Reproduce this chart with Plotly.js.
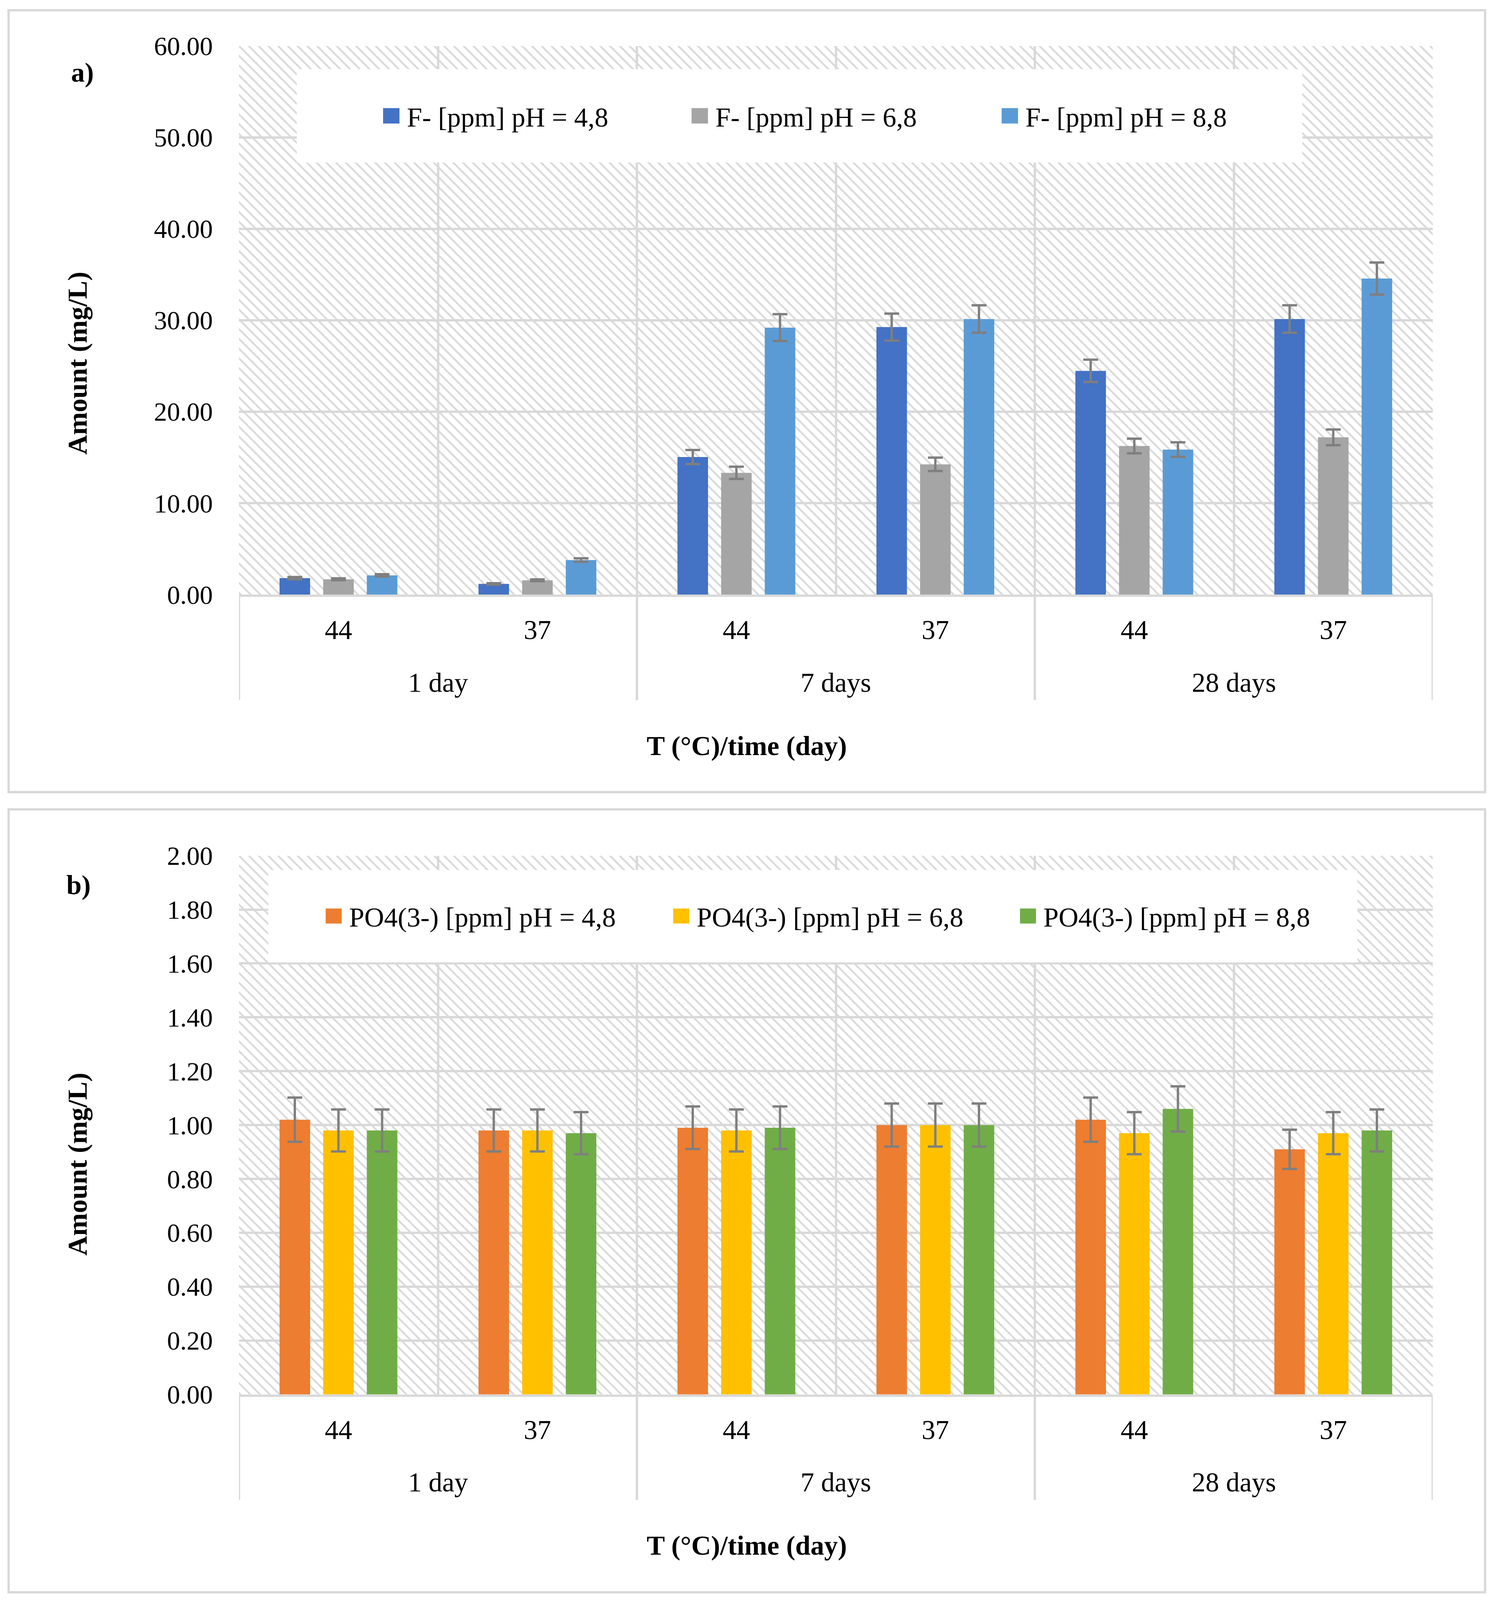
<!DOCTYPE html>
<html>
<head>
<meta charset="utf-8">
<script src="https://cdn.plot.ly/plotly-3.0.1.min.js"></script>
<style>
	html, body { margin: 0; padding: 0; background: #fff; overflow: hidden; }
</style>
</head>
<body>
<div id="chart"></div>
<script>
// categories (two-level x axis: storage time / temperature)
var days  = ['1 day', '1 day', '7 days', '7 days', '28 days', '28 days'];
var temps = ['44', '37', '44', '37', '44', '37'];

// panel a) fluoride release
var f_names  = ['F- [ppm] pH = 4,8', 'F- [ppm] pH = 6,8', 'F- [ppm] pH = 8,8'];
var f_ph48   = [1.80, 1.17, 15.05, 29.26, 24.47, 30.14];
var f_ph68   = [1.68, 1.57, 13.32, 14.25, 16.25, 17.20];
var f_ph88   = [2.10, 3.78, 29.20, 30.14, 15.86, 34.57];
var f_err48  = [0.12, 0.08, 0.77, 1.47, 1.22, 1.50];
var f_err68  = [0.10, 0.10, 0.67, 0.73, 0.80, 0.86];
var f_err88  = [0.13, 0.19, 1.47, 1.50, 0.80, 1.75];

// panel b) phosphate release
var p_names  = ['PO4(3-) [ppm] pH = 4,8', 'PO4(3-) [ppm] pH = 6,8', 'PO4(3-) [ppm] pH = 8,8'];
var p_ph48   = [1.02, 0.98, 0.99, 1.00, 1.02, 0.91];
var p_ph68   = [0.98, 0.98, 0.98, 1.00, 0.97, 0.97];
var p_ph88   = [0.98, 0.97, 0.99, 1.00, 1.06, 0.98];
var p_err48  = [0.082, 0.078, 0.079, 0.080, 0.082, 0.073];
var p_err68  = [0.078, 0.078, 0.078, 0.080, 0.078, 0.078];
var p_err88  = [0.078, 0.078, 0.079, 0.080, 0.084, 0.078];

var f_colors = ['#4472C4', '#A5A5A5', '#5B9BD5'];
var p_colors = ['#ED7D31', '#FFC000', '#70AD47'];

// the layout is measured on a 3831 x 4351 sheet; fit it to the visible window height
var W = 3831, REF_H = 4351;
var H = window.innerHeight > 0 ? Math.min(REF_H, window.innerHeight) : REF_H;
var SY = H / REF_H;
var FONT = 'Liberation Serif, Times New Roman, serif';
var GRID = '#d9d9d9';

document.getElementById('chart').style.width = W + 'px';
document.getElementById('chart').style.height = H + 'px';

function px(x) { return x / W; }
function py(y) { return 1 - y / REF_H; }

// one unique category per bar group, shown with its temperature only
var cat_ids = days.map(function(d, i) { return d + ' | ' + temps[i]; });

// diagonal hatch used as plot background
function hatch_uri(w, h) {
	var svg = '<svg xmlns="http://www.w3.org/2000/svg" width="' + w + '" height="' + h +
		'" viewBox="0 0 ' + w + ' ' + h + '" preserveAspectRatio="none">' +
		'<defs><pattern id="p" patternUnits="userSpaceOnUse" width="25" height="25">' +
		'<path d="M-5,-5L30,30M-5,20L5,30M20,-5L30,5" stroke="' + GRID + '" stroke-width="4.5"/>' +
		'</pattern></defs><rect width="' + w + '" height="' + h + '" fill="url(#p)"/></svg>';
	return 'data:image/svg+xml;base64,' + btoa(svg);
}

function make_bar(vals, errs, name, color, xa, ya) {
	return {
		type: 'bar',
		x: cat_ids,
		y: vals,
		name: name,
		xaxis: xa,
		yaxis: ya,
		showlegend: false,
		hoverinfo: 'none',
		marker: { color: color },
		error_y: { type: 'data', array: errs, visible: true, color: '#7F7F7F', thickness: 6, width: 19 }
	};
}

var data = [
	make_bar(f_ph48, f_err48, f_names[0], f_colors[0], 'x', 'y'),
	make_bar(f_ph68, f_err68, f_names[1], f_colors[1], 'x', 'y'),
	make_bar(f_ph88, f_err88, f_names[2], f_colors[2], 'x', 'y'),
	make_bar(p_ph48, p_err48, p_names[0], p_colors[0], 'x2', 'y2'),
	make_bar(p_ph68, p_err68, p_names[1], p_colors[1], 'x2', 'y2'),
	make_bar(p_ph88, p_err88, p_names[2], p_colors[2], 'x2', 'y2')
];

// plot areas on the reference sheet: [left, top, right, bottom]
var area_a = [612, 125, 3669, 1617];
var area_b = [612, 2327, 3669, 3792];

function x_axis(area, anchor) {
	return {
		type: 'category',
		categoryorder: 'array', categoryarray: cat_ids,
		tickmode: 'array', tickvals: cat_ids, ticktext: temps,
		domain: [px(area[0]), px(area[2])],
		anchor: anchor,
		range: [-0.5, cat_ids.length - 0.5],
		tickson: 'boundaries',
		showgrid: true, gridcolor: GRID, gridwidth: 6,
		showline: true, linecolor: GRID, linewidth: 6,
		ticks: '',
		ticklabelstandoff: Math.round(26 * SY),
		tickfont: { family: FONT, size: 70, color: '#000' },
		fixedrange: true
	};
}

function y_axis(area, anchor, top, step) {
	return {
		domain: [py(area[3]), py(area[1])],
		anchor: anchor,
		range: [0, top],
		dtick: step,
		tickformat: '.2f',
		showgrid: true, gridcolor: GRID, gridwidth: 6,
		zeroline: false, showline: false,
		ticks: '',
		ticklabelstandoff: 66,
		tickfont: { family: FONT, size: 67, color: '#000' },
		fixedrange: true
	};
}

// second label row (days) and the dividers between day groups
function group_parts(xref, axis_y) {
	var shapes = [], annots = [];
	var start = 0;
	for (var i = 1; i <= days.length; i++) {
		if (i === days.length || days[i] !== days[start]) {
			annots.push({
				xref: xref, yref: 'paper', x: (start + i - 1) / 2, y: py(axis_y + 239),
				xanchor: 'center', yanchor: 'middle', showarrow: false,
				text: days[start], font: { family: FONT, size: 70, color: '#000' }
			});
			start = i;
		}
	}
	for (var k = 0; k <= days.length; k++) {
		if (k === 0 || k === days.length || days[k] !== days[k - 1]) {
			shapes.push({
				type: 'line', xref: xref, yref: 'paper',
				x0: k - 0.5, x1: k - 0.5, y0: py(axis_y), y1: py(axis_y + 287),
				line: { color: GRID, width: 6 }
			});
		}
	}
	return { shapes: shapes, annots: annots };
}

function legend_parts(names, colors, box, sq_x, sq_y, sq) {
	var shapes = [{
		type: 'rect', xref: 'paper', yref: 'paper', layer: 'above',
		x0: px(box[0]), x1: px(box[2]), y0: py(box[3]), y1: py(box[1]),
		fillcolor: '#fff', line: { width: 0 }
	}];
	var annots = [];
	for (var i = 0; i < names.length; i++) {
		shapes.push({
			type: 'rect', xref: 'paper', yref: 'paper', layer: 'above',
			x0: px(sq_x[i]), x1: px(sq_x[i] + sq), y0: py(sq_y + sq / 2), y1: py(sq_y - sq / 2),
			fillcolor: colors[i], line: { width: 0 }
		});
		annots.push({
			xref: 'paper', yref: 'paper', x: px(sq_x[i] + sq + 17), y: py(sq_y + 4),
			xanchor: 'left', yanchor: 'middle', showarrow: false,
			text: names[i], font: { family: FONT, size: 70, color: '#000' }
		});
	}
	return { shapes: shapes, annots: annots };
}

var grp_a = group_parts('x', area_a[3]);
var grp_b = group_parts('x2', area_b[3]);
var leg_a = legend_parts(f_names, f_colors, [760, 188, 3335, 442], [981, 1771, 2565], 315, 42);
var leg_b = legend_parts(p_names, p_colors, [687, 2366, 3476, 2617], [834, 1724, 2612], 2491, 41);

var border = { color: GRID, width: 6 };
var shapes = [
	{ type: 'rect', xref: 'paper', yref: 'paper', x0: px(22), x1: px(3803), y0: py(2154), y1: py(28), line: border },
	{ type: 'rect', xref: 'paper', yref: 'paper', x0: px(22), x1: px(3803), y0: py(4330), y1: py(2201), line: border }
].concat(grp_a.shapes, grp_b.shapes, leg_a.shapes, leg_b.shapes);

function label(text, x, y, bold, angle) {
	return {
		xref: 'paper', yref: 'paper', x: px(x), y: py(y),
		xanchor: 'center', yanchor: 'middle', showarrow: false,
		textangle: angle || 0,
		text: bold ? '<b>' + text + '</b>' : text,
		font: { family: FONT, size: 70, color: '#000' }
	};
}

var annotations = [
	label('a)', 211, 197, true),
	label('b)', 201, 2407, true),
	label('Amount (mg/L)', 198, 988, true, -90),
	label('Amount (mg/L)', 198, 3166, true, -90),
	label('T (°C)/time (day)', 1912, 2028, true),
	label('T (°C)/time (day)', 1912, 4203, true)
].concat(grp_a.annots, grp_b.annots, leg_a.annots, leg_b.annots);

var images = [area_a, area_b].map(function(a) {
	var w = a[2] - a[0], h = Math.round((a[3] - a[1]) * SY);
	return {
		source: hatch_uri(w, h),
		xref: 'paper', yref: 'paper',
		x: px(a[0]), y: py(a[1]),
		sizex: w / W, sizey: (a[3] - a[1]) / REF_H,
		sizing: 'stretch', xanchor: 'left', yanchor: 'top', layer: 'below'
	};
});

var layout = {
	width: W, height: H,
	margin: { l: 0, r: 0, t: 0, b: 0 },
	paper_bgcolor: '#fff',
	plot_bgcolor: 'rgba(0,0,0,0)',
	barmode: 'group',
	bargap: 0.342,
	bargroupgap: 0.3,
	showlegend: false,
	font: { family: FONT, color: '#000' },
	xaxis: x_axis(area_a, 'y'),
	yaxis: y_axis(area_a, 'x', 60, 10),
	xaxis2: x_axis(area_b, 'y2'),
	yaxis2: y_axis(area_b, 'x2', 2, 0.2),
	shapes: shapes,
	annotations: annotations,
	images: images
};

Plotly.newPlot('chart', data, layout, { staticPlot: true, displayModeBar: false });
</script>
</body>
</html>
